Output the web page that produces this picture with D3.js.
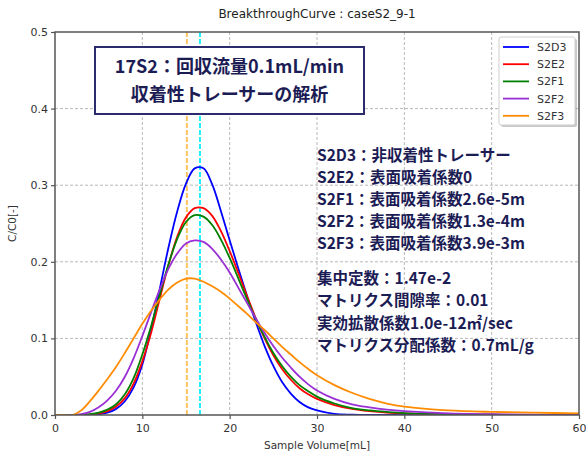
<!DOCTYPE html>
<html>
<head>
<meta charset="utf-8">
<script src="https://cdn.jsdelivr.net/npm/d3@7/dist/d3.min.js"></script>
<style>
  html, body { margin: 0; padding: 0; background: #fff; }
  svg { display: block; }
</style>
</head>
<body>
<svg id="chart" width="586" height="452"></svg>
<script>
// Sample volume grid (mL) shared by all curves
const volume = [0, 1, 2, 3, 4, 5, 6, 7, 8, 9, 10, 11, 12, 13, 14, 15, 16, 17, 18, 19, 20,
  21, 22, 23, 24, 25, 26, 27, 28, 29, 30, 32, 34, 36, 38, 40, 45, 50, 55, 60];

// C/C0 breakthrough values for each case
const s2d3 = [0, 0, 0, 0, 0, 0.001, 0.003, 0.008, 0.018, 0.036, 0.066, 0.112, 0.165, 0.219, 0.266, 0.302, 0.322, 0.322, 0.301, 0.266, 0.228,
  0.191, 0.155, 0.121, 0.090, 0.064, 0.043, 0.028, 0.017, 0.010, 0.006, 0.0015, 0.0004, 0, 0, 0, 0, 0, 0, 0];
const s2e2 = [0, 0, 0, 0, 0.0005, 0.002, 0.005, 0.011, 0.022, 0.041, 0.070, 0.107, 0.152, 0.196, 0.233, 0.258, 0.270, 0.270, 0.260, 0.240, 0.214,
  0.185, 0.155, 0.126, 0.100, 0.078, 0.060, 0.046, 0.035, 0.027, 0.021, 0.013, 0.008, 0.005, 0.003, 0.002, 0.0008, 0.0003, 0.0001, 0];
const s2f1 = [0, 0, 0, 0, 0.001, 0.003, 0.007, 0.014, 0.027, 0.048, 0.079, 0.116, 0.157, 0.197, 0.230, 0.252, 0.261, 0.259, 0.248, 0.229, 0.205,
  0.178, 0.151, 0.125, 0.102, 0.081, 0.064, 0.050, 0.039, 0.031, 0.024, 0.015, 0.009, 0.006, 0.004, 0.0025, 0.001, 0.0004, 0.0002, 0.0001];
const s2f2 = [0, 0, 0, 0.001, 0.004, 0.010, 0.019, 0.032, 0.050, 0.074, 0.103, 0.134, 0.164, 0.191, 0.211, 0.224, 0.228, 0.226, 0.217, 0.203, 0.186,
  0.166, 0.146, 0.126, 0.107, 0.090, 0.075, 0.062, 0.050, 0.040, 0.032, 0.021, 0.014, 0.010, 0.007, 0.005, 0.002, 0.001, 0.0004, 0.0002];
const s2f3 = [0, 0, 0, 0.006, 0.018, 0.032, 0.047, 0.063, 0.081, 0.100, 0.119, 0.136, 0.151, 0.164, 0.173, 0.178, 0.178, 0.174, 0.168, 0.161, 0.152,
  0.142, 0.132, 0.121, 0.111, 0.100, 0.089, 0.079, 0.069, 0.060, 0.052, 0.039, 0.029, 0.021, 0.015, 0.011, 0.006, 0.004, 0.003, 0.002];

const seriesNames = ["S2D3", "S2E2", "S2F1", "S2F2", "S2F3"];
const seriesValues = [s2d3, s2e2, s2f1, s2f2, s2f3];
const seriesColors = ["#0000ff", "#ff0000", "#008000", "#9a2fd6", "#ff8c00"];

// Peak positions marked with vertical dashed lines (mL)
const markerVolumes = [15.1, 16.6];
const markerColors = ["#ffc45e", "#1ef0ff"];

const xTicks = [0, 10, 20, 30, 40, 50, 60];
const yTicks = [0.0, 0.1, 0.2, 0.3, 0.4, 0.5];

const titleText = "BreakthroughCurve : caseS2_9-1";
const xLabel = "Sample Volume[mL]";
const yLabel = "C/C0[-]";
const boxLines = ["17S2：回収流量0.1mL/min", "収着性トレーサーの解析"];
const noteLinesA = [
  "S2D3：非収着性トレーサー",
  "S2E2：表面吸着係数0",
  "S2F1：表面吸着係数2.6e-5m",
  "S2F2：表面吸着係数1.3e-4m",
  "S2F3：表面吸着係数3.9e-3m"
];
const noteLinesB = [
  "集中定数：1.47e-2",
  "マトリクス間隙率：0.01",
  "実効拡散係数1.0e-12㎡/sec",
  "マトリクス分配係数：0.7mL/g"
];

const svg = d3.select("#chart");
const plot = { left: 55, right: 579, top: 32, bottom: 415 };

const x = d3.scaleLinear().domain([0, 60]).range([plot.left, plot.right]);
const y = d3.scaleLinear().domain([0, 0.5]).range([plot.bottom, plot.top]);

// Grid
const grid = svg.append("g").attr("stroke", "#b8b8b8").attr("stroke-width", 1)
  .attr("stroke-dasharray", "3,2");
xTicks.slice(1, -1).forEach(t => {
  grid.append("line").attr("x1", x(t)).attr("x2", x(t)).attr("y1", plot.top).attr("y2", plot.bottom);
});
yTicks.slice(1, -1).forEach(t => {
  grid.append("line").attr("x1", plot.left).attr("x2", plot.right).attr("y1", y(t)).attr("y2", y(t));
});

// Vertical peak markers
markerVolumes.forEach((v, i) => {
  svg.append("line")
    .attr("x1", x(v)).attr("x2", x(v)).attr("y1", plot.top).attr("y2", plot.bottom)
    .attr("stroke", markerColors[i]).attr("stroke-width", 2).attr("stroke-dasharray", "5,2");
});

// Curves
const line = d3.line()
  .x((d, i) => x(volume[i]))
  .y(d => y(d))
  .curve(d3.curveCatmullRom.alpha(0.5));

svg.append("clipPath").attr("id", "plotclip").append("rect")
  .attr("x", plot.left).attr("y", plot.top)
  .attr("width", plot.right - plot.left).attr("height", plot.bottom - plot.top);

const curves = svg.append("g").attr("clip-path", "url(#plotclip)");
seriesValues.forEach((vals, i) => {
  curves.append("path")
    .datum(vals)
    .attr("d", line)
    .attr("fill", "none")
    .attr("stroke", seriesColors[i])
    .attr("stroke-width", 1.8)
    .attr("stroke-linejoin", "round");
});

// Axes
const axisColor = "#555";
const xAxis = svg.append("g").attr("transform", `translate(0,${plot.bottom})`)
  .call(d3.axisBottom(x).tickValues(xTicks).tickFormat(d3.format("d")).tickSize(4).tickSizeOuter(0));
const yAxis = svg.append("g").attr("transform", `translate(${plot.left},0)`)
  .call(d3.axisLeft(y).tickValues(yTicks).tickFormat(d3.format(".1f")).tickSize(4).tickSizeOuter(0));
[xAxis, yAxis].forEach(a => {
  a.select(".domain").remove();
  a.selectAll(".tick line").attr("stroke", axisColor).attr("stroke-width", 1.2);
  a.selectAll(".tick text")
    .attr("fill", "#333")
    .style("font-family", "'DejaVu Sans', sans-serif")
    .style("font-size", "11px");
});
xAxis.selectAll(".tick text").attr("dy", "0.95em");

// Frame
svg.append("rect")
  .attr("x", plot.left).attr("y", plot.top)
  .attr("width", plot.right - plot.left).attr("height", plot.bottom - plot.top)
  .attr("fill", "none").attr("stroke", axisColor).attr("stroke-width", 1.5);

// Title and axis labels
svg.append("text").attr("x", (plot.left + plot.right) / 2).attr("y", 18)
  .attr("text-anchor", "middle").attr("fill", "#222")
  .style("font-family", "'DejaVu Sans', sans-serif").style("font-size", "12px")
  .text(titleText);
svg.append("text").attr("x", (plot.left + plot.right) / 2).attr("y", 449)
  .attr("text-anchor", "middle").attr("fill", "#333")
  .style("font-family", "'DejaVu Sans', sans-serif").style("font-size", "10.5px")
  .text(xLabel);
svg.append("text")
  .attr("transform", `translate(16,${(plot.top + plot.bottom) / 2}) rotate(-90)`)
  .attr("text-anchor", "middle").attr("fill", "#333")
  .style("font-family", "'DejaVu Sans', sans-serif").style("font-size", "10.5px")
  .text(yLabel);

// Legend with drop shadow
const lg = { x: 499, y: 37, w: 76, h: 88 };
svg.append("rect").attr("x", lg.x + 2).attr("y", lg.y + 2).attr("width", lg.w).attr("height", lg.h)
  .attr("rx", 2).attr("fill", "#9a9a9a").attr("opacity", 0.55);
svg.append("rect").attr("x", lg.x).attr("y", lg.y).attr("width", lg.w).attr("height", lg.h)
  .attr("rx", 2).attr("fill", "#fff").attr("stroke", "#cfcfcf").attr("stroke-width", 1);
seriesNames.forEach((name, i) => {
  const ly = lg.y + 10 + i * 17.2;
  svg.append("line").attr("x1", lg.x + 4).attr("x2", lg.x + 30).attr("y1", ly).attr("y2", ly)
    .attr("stroke", seriesColors[i]).attr("stroke-width", 1.8);
  svg.append("text").attr("x", lg.x + 38).attr("y", ly + 4)
    .attr("fill", "#333")
    .style("font-family", "'DejaVu Sans', sans-serif").style("font-size", "11px")
    .text(name);
});

// Heading box
const navy = "#1c1c55";
svg.append("rect").attr("x", 95).attr("y", 47).attr("width", 269).attr("height", 67)
  .attr("fill", "#fff").attr("stroke", "#2b2b6e").attr("stroke-width", 2);
boxLines.forEach((t, i) => {
  svg.append("text").attr("x", 229.5).attr("y", 73 + i * 28)
    .attr("text-anchor", "middle").attr("fill", navy)
    .style("font-family", "'Noto Sans CJK JP', sans-serif").style("font-size", "18px")
    .style("font-weight", "bold")
    .text(t);
});

// Notes
const notes = svg.append("g")
  .attr("fill", navy)
  .style("font-family", "'Noto Sans CJK JP', sans-serif")
  .style("font-size", "15.5px")
  .style("font-weight", "bold");
noteLinesA.forEach((t, i) => {
  notes.append("text").attr("x", 317).attr("y", 161 + i * 22).text(t);
});
noteLinesB.forEach((t, i) => {
  notes.append("text").attr("x", 317).attr("y", 284 + i * 22.3).text(t);
});
</script>
</body>
</html>
